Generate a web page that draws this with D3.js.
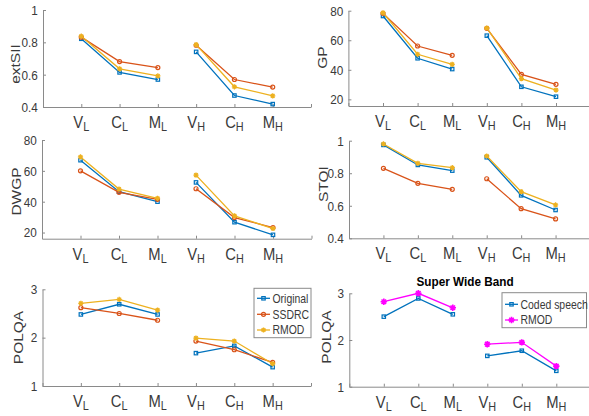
<!DOCTYPE html>
<html><head><meta charset="utf-8">
<script src="https://cdn.jsdelivr.net/npm/d3@7"></script>
<style>
html,body{margin:0;padding:0;background:#fff;}
svg{display:block;font-family:"Liberation Sans",Arial,Helvetica,sans-serif;}
</style></head>
<body>
<svg id="chart" width="589" height="416"></svg>
<script>
// ---------- DATA ----------
const categories = ["V_L","C_L","M_L","V_H","C_H","M_H"];
const catMain = ["V","C","M","V","C","M"];
const catSub  = ["L","L","L","H","H","H"];
const xPositions = [1,2,3,4,5,6];

const extSII_original = [0.822, 0.614, 0.570, 0.741, 0.471, 0.418];
const extSII_ssdrc    = [0.832, 0.681, 0.644, 0.782, 0.570, 0.523];
const extSII_rmod     = [0.838, 0.636, 0.592, 0.786, 0.525, 0.469];

const GP_original = [76.4, 47.8, 40.5, 63.1, 28.5, 21.8];
const GP_ssdrc    = [78.2, 56.1, 49.8, 68.1, 36.9, 30.2];
const GP_rmod     = [78.6, 50.5, 43.7, 68.3, 34.0, 26.3];

const DWGP_original = [66.9, 46.5, 40.0, 52.5, 26.7, 18.5];
const DWGP_ssdrc    = [60.0, 46.1, 41.5, 48.4, 29.7, 23.2];
const DWGP_rmod     = [69.0, 48.2, 42.2, 57.2, 30.8, 22.6];

const STOI_original = [0.974, 0.851, 0.816, 0.898, 0.664, 0.574];
const STOI_ssdrc    = [0.830, 0.738, 0.701, 0.766, 0.582, 0.519];
const STOI_rmod     = [0.980, 0.861, 0.834, 0.906, 0.687, 0.605];

const POLQA_original = [2.48, 2.69, 2.48, 1.68, 1.83, 1.39];
const POLQA_ssdrc    = [2.62, 2.50, 2.36, 1.93, 1.75, 1.49];
const POLQA_rmod     = [2.71, 2.79, 2.57, 1.99, 1.93, 1.46];

const SWB_coded = [2.50, 2.89, 2.55, 1.66, 1.77, 1.34];
const SWB_rmod  = [2.82, 3.00, 2.69, 1.91, 1.95, 1.44];

const ticks01  = [0.4, 0.6, 0.8, 1];
const ticks01Labels = ["0.4","0.6","0.8","1"];
const ticks2080 = [20, 40, 60, 80];
const ticks2080Labels = ["20","40","60","80"];
const ticksPolqa = [1, 2, 3];
const ticksPolqaLabels = ["1","2","3"];

const legend3Names = ["Original","SSDRC","RMOD"];
const legend2Names = ["Coded speech","RMOD"];
const swbTitle = "Super Wide Band";

// ---------- STYLE ----------
const C_BLUE = "#0072BD", C_ORANGE = "#D95319", C_YELLOW = "#EDB120", C_MAG = "#FF00FF";
const AXIS_COL = "#8a8a8a", TEXT_COL = "#3a3a3a";
const SX = 0.87; // horizontal text compression of the reference

const svg = d3.select("#chart");

const series3 = (o,s,r) => [
  {vals:o, color:C_BLUE, marker:"square"},
  {vals:s, color:C_ORANGE, marker:"circle"},
  {vals:r, color:C_YELLOW, marker:"star"}
];

const panels = [
  {x0:43, x1:311, yb:107, yt:10, dom:[0.4,1], tv:ticks01, tl:ticks01Labels, label:"extSII", lx:20, ly:64,
   series: series3(extSII_original, extSII_ssdrc, extSII_rmod)},
  {x0:348.4, x1:590.6, yb:106, yt:10.7, dom:[15.5,80], tv:ticks2080, tl:ticks2080Labels, label:"GP", lx:327, ly:57.5,
   series: series3(GP_original, GP_ssdrc, GP_rmod)},
  {x0:42, x1:311.5, yb:238.7, yt:140, dom:[16,80], tv:ticks2080, tl:ticks2080Labels, label:"DWGP", lx:21, ly:191.5,
   series: series3(DWGP_original, DWGP_ssdrc, DWGP_rmod)},
  {x0:349, x1:590, yb:238.3, yt:140.7, dom:[0.4,1], tv:ticks01, tl:ticks01Labels, label:"STOI", lx:328, ly:184,
   series: series3(STOI_original, STOI_ssdrc, STOI_rmod)},
  {x0:42.5, x1:311, yb:386, yt:289.3, dom:[1,3], tv:ticksPolqa, tl:ticksPolqaLabels, label:"POLQA", lx:22.5, ly:337.5,
   series: series3(POLQA_original, POLQA_ssdrc, POLQA_rmod),
   legend:{x:254, y:288.3, w:57, h:49.4, names:legend3Names, rows:[298.3,314.3,330]}},
  {x0:349.3, x1:590.8, yb:386.7, yt:293.3, dom:[1,3], tv:ticksPolqa, tl:ticksPolqaLabels, label:"POLQA", lx:330.5, ly:337,
   series: [{vals:SWB_coded, color:C_BLUE, marker:"square"},{vals:SWB_rmod, color:C_MAG, marker:"star", big:true}],
   legend:{x:502, y:292.7, w:84.5, h:35, names:legend2Names, rows:[304.3,320]},
   title: swbTitle}
];

function drawMarker(g, type, cx, cy, color, big) {
  if (type === "square") {
    g.append("rect").attr("x", cx-1.7).attr("y", cy-1.7).attr("width", 3.4).attr("height", 3.4)
      .attr("fill", "none").attr("stroke", color).attr("stroke-width", 1.2);
  } else if (type === "circle") {
    g.append("circle").attr("cx", cx).attr("cy", cy).attr("r", 2)
      .attr("fill", "none").attr("stroke", color).attr("stroke-width", 1.2);
  } else {
    const r = big ? 3.2 : 2.6;
    const d = [0,45,90,135].map(a => {
      const t = a*Math.PI/180, dx = r*Math.cos(t), dy = r*Math.sin(t);
      return `M${cx-dx},${cy-dy}L${cx+dx},${cy+dy}`;
    }).join("");
    g.append("path").attr("d", d).attr("stroke", color).attr("stroke-width", big ? 1.6 : 1.3).attr("fill","none");
  }
}

panels.forEach(p => {
  const x = d3.scaleLinear().domain([0,7]).range([p.x0, p.x1]);
  const y = d3.scaleLinear().domain(p.dom).range([p.yb, p.yt]);
  const g = svg.append("g");

  // y axis
  const ya = g.append("g").attr("transform", `translate(${p.x0},0)`)
    .call(d3.axisLeft(y).tickValues(p.tv).tickFormat((d,i)=>p.tl[i]).tickSizeInner(-3).tickSizeOuter(0).tickPadding(6));
  ya.select(".domain").attr("stroke", AXIS_COL);
  ya.selectAll(".tick line").attr("stroke", AXIS_COL);
  ya.selectAll(".tick text").attr("fill", TEXT_COL).style("font-size","13.5px")
    .attr("font-family", null).attr("transform", `scale(${SX},1)`);

  // x axis
  const xa = g.append("g").attr("transform", `translate(0,${p.yb})`)
    .call(d3.axisBottom(x).tickValues([0,1,2,3,4,5,6,7]).tickFormat("").tickSizeInner(-3).tickSizeOuter(0));
  xa.select(".domain").attr("stroke", AXIS_COL);
  xa.selectAll(".tick line").attr("stroke", AXIS_COL);
  xa.selectAll(".tick text").remove();
  xPositions.forEach((xv, i) => {
    const t = g.append("text")
      .attr("transform", `translate(${x(xv)},${p.yb + 21}) scale(${SX},1)`)
      .attr("text-anchor", "middle").attr("fill", TEXT_COL);
    t.append("tspan").style("font-size","17px").text(catMain[i]);
    t.append("tspan").style("font-size","12.5px").attr("dy", 3).text(catSub[i]);
  });

  // y label
  g.append("text")
    .attr("transform", `translate(${p.lx},${p.ly}) scale(${SX},1) rotate(-90)`)
    .attr("text-anchor","middle").attr("fill", TEXT_COL).style("font-size","15.5px").text(p.label);

  // title
  if (p.title) {
    g.append("text").attr("transform", `translate(${(p.x0+p.x1)/2 - 5},285.7) scale(${SX},1)`)
      .attr("text-anchor","middle").attr("fill","#000").style("font-size","13.5px").style("font-weight","bold").text(p.title);
  }

  // series
  const line = d3.line().x(d => x(d.x)).y(d => y(d.v));
  p.series.forEach(s => {
    const pts = s.vals.map((v,i) => ({x: xPositions[i], v}));
    [pts.slice(0,3), pts.slice(3,6)].forEach(seg => {
      g.append("path").attr("d", line(seg)).attr("fill","none")
        .attr("stroke", s.color).attr("stroke-width", 1.3);
    });
    pts.forEach(d => drawMarker(g, s.marker, x(d.x), y(d.v), s.color, s.big));
  });

  // legend
  if (p.legend) {
    const L = p.legend;
    g.append("rect").attr("x", L.x).attr("y", L.y).attr("width", L.w).attr("height", L.h)
      .attr("fill","#fff").attr("stroke", AXIS_COL).attr("stroke-width", 1);
    L.names.forEach((n, i) => {
      const s = p.series[i], yy = L.rows[i];
      g.append("line").attr("x1", L.x + 3).attr("x2", L.x + 16).attr("y1", yy).attr("y2", yy)
        .attr("stroke", s.color).attr("stroke-width", 1.3);
      drawMarker(g, s.marker, L.x + 9.5, yy, s.color, s.big);
      g.append("text").attr("transform", `translate(${L.x + 18.5},${yy + 4.2}) scale(${SX},1)`)
        .attr("fill", TEXT_COL).style("font-size","12px").text(n);
    });
  }
});
</script>
</body></html>
